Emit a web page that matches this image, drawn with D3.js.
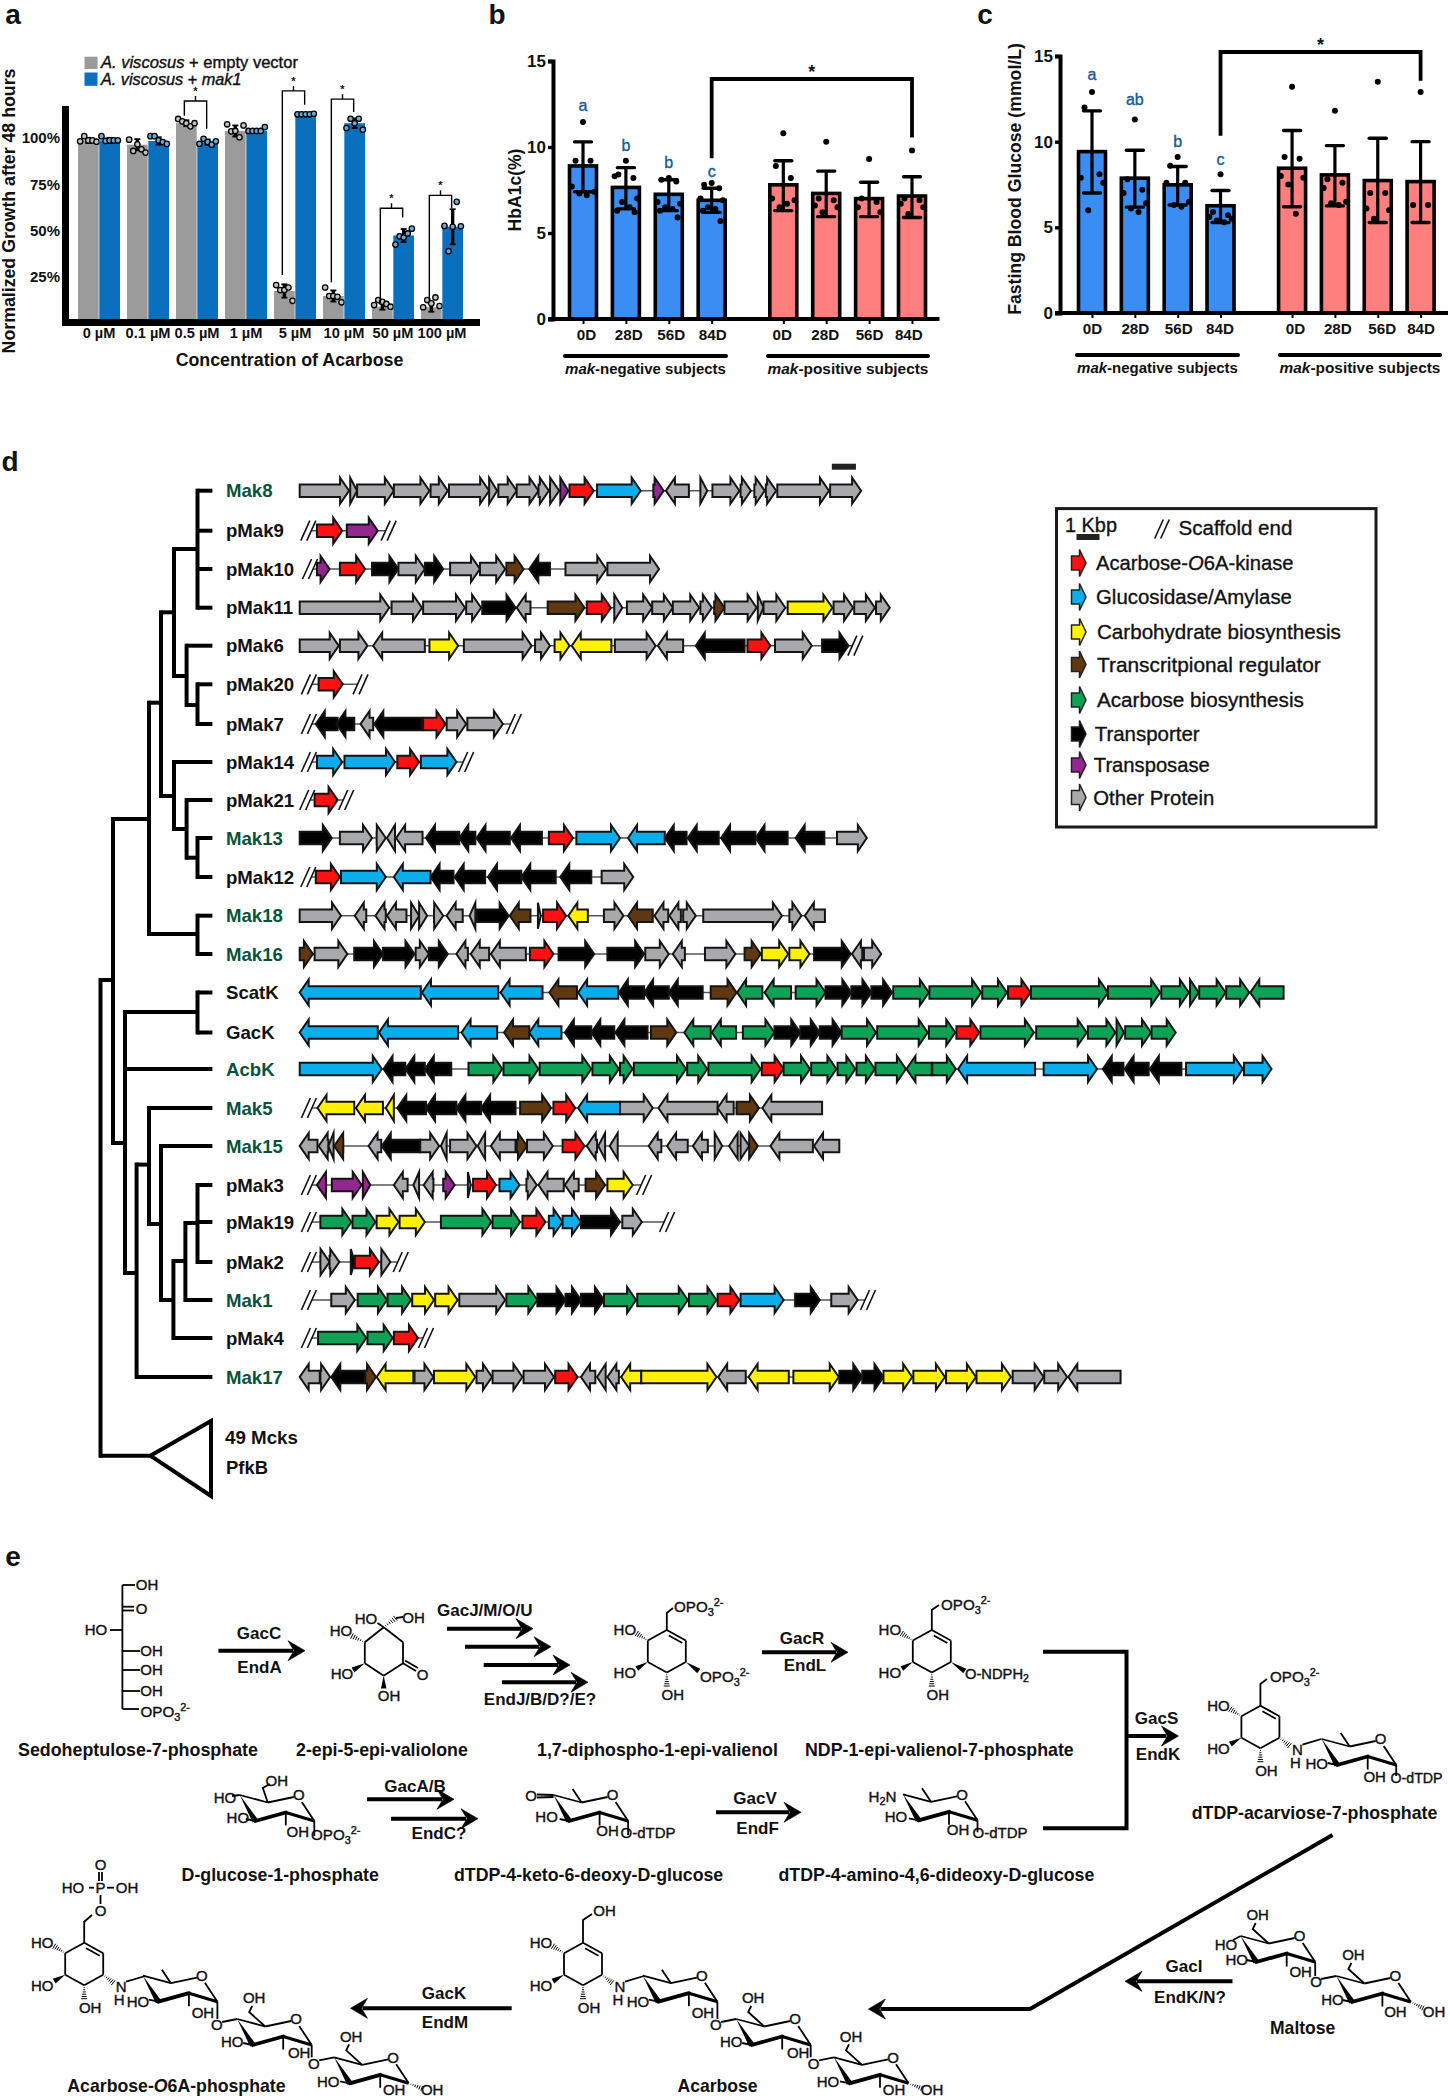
<!DOCTYPE html>
<html><head><meta charset="utf-8">
<script src="https://cdn.jsdelivr.net/npm/d3@7"></script>
<style>html,body{margin:0;background:#fff}svg{display:block}text{font-family:"Liberation Sans",Arial,sans-serif;fill:#111}</style>
</head><body><svg id="fig" width="1450" height="2100"></svg>
<script>
// ---------- panel a data ----------
const concLabels=['0 µM','0.1 µM','0.5 µM','1 µM','5 µM','10 µM','50 µM','100 µM'];
const growthGray=[98.7,96.4,108,103.8,17.3,14.6,8.8,8.5];
const growthBlue=[98.7,98.4,97.8,103.8,113,108,47.3,52];
const errGray=[1.4,3,1.6,3,3.6,3,1.6,2.4];
const errBlue=[1.4,2,1.4,1,.4,2.6,3.5,9.5];
const ptsGray=[[98.2,101,98.7,98.7,98],[99.1,93,96.6,93.9,92.1],[110.3,109,108,106.3,108],[107.4,103.6,103.8,100.4,106.8],[20.5,17.8,17.8,19.2,12],[19.2,14.6,14.6,14.2,11.2],[9.7,12.4,11.5,10.3,8.8],[8.5,12.4,10.6,13.8,9.2]];
const ptsBlue=[[101,98.4,98.7,98.7,98.7],[101,101,98.7,97.8,96.8],[96.9,99.6,97.8,96.4,98.2],[103.8,103.8,103.8,103.8,105.9],[112.8,112.8,112.8,112.8,113.1],[105.4,110.4,108,110.4,104.5],[42.4,46.9,46.2,48.4,51],[52.5,38.8,52,65.5,52.3]];
const bracketGroups=[2,4,5,6,7];
const bracketTop=[120,125.5,121,62,69];
const bracketLeft=[112,26,22,11,12];
const bracketRight=[105,118,114,57,62];
// ---------- panels b, c data ----------
const dayLabels=['0D','28D','56D','84D','0D','28D','56D','84D'];
const dayPos=[0,1,2,3,4.67,5.67,6.67,7.67];
const hbaMean=[8.9,7.65,7.25,6.9,7.8,7.3,7.0,7.15];
const hbaHi=[10.3,8.8,8.1,7.6,9.2,8.6,7.95,8.27];
const hbaLo=[7.4,6.4,6.3,6.2,6.3,5.95,5.95,5.9];
const hbaPts=[[11.45,9.2,9.2,7.7,7.4,7.3,7.2],[9.2,8.4,8.2,8.3,7,6.8,6.5,6.3,6.2],[8.2,8.1,8,6.8,6.7,6.5,6.4,6.3,5.9],[7.9,7.8,7.6,7,6.9,6.5,6.4,6.3,5.7],[10.8,8.9,8.2,7,6.9,6.5,6.7],[10.3,7,6.9,6.6,6.5,6.2],[9.3,7,6.8,6.5,6.2],[9.8,7,6.9,6.7,6.5,6.1]];
const hbaLetters=['a','b','b','c'];
const hbaLetterVal=[12.4,10.1,9.1,8.6];
const fbgMean=[9.42,7.87,7.48,6.26,8.45,8.06,7.73,7.67];
const fbgHi=[11.8,9.5,8.55,7.15,10.65,9.77,10.2,10];
const fbgLo=[7,6.18,6.3,5.28,6.2,6.25,5.28,5.28];
const fbgPts=[[12.9,12,8.1,7.9,7.6,6],[11.3,7.8,7.2,7,6.4,6.1,5.9],[9.1,8.6,7.6,7.6,6.5,6.3,6.2],[8.1,5.9,5.7,5.6,5.5,5.4,5.3],[13.2,9.1,9,8,7.9,7.5,5.8],[11.8,7.8,7.6,7.3,6.5,6.4,6.3],[13.5,7,7,6.1,6,5.5],[12.9,6.3,6.3]];
const fbgLetters=['a','ab','b','c'];
const fbgLetterVal=[13.95,12.45,10.05,8.95];
const dotJitter=[0,-6,6,-9,9,-3,3,-7,7];
// ---------- panel d data ----------
const geneColors={r:'#ff1111',b:'#0baeea',y:'#fff200',n:'#603913',g:'#0fa257',k:'#000',p:'#92278f',o:'#a7a9ac'};
const legendKeys=['r','b','y','n','g','k','p','o'];
const legendLabels=[['Acarbose-',{t:'O',i:1},'6A-kinase'],['Glucosidase/Amylase'],['Carbohydrate biosynthesis'],['Transcritpional regulator'],['Acarbose biosynthesis'],['Transporter'],['Transposase'],['Other Protein']];
const legendRowY=[563,597,632,664.5,700,734,765,797.5];
const legendTextX=[1096,1096,1097,1097,1097,1094.7,1093.8,1093.3];
const legendTextW=[197.6,196,244,224,207,105,116,121];
const rowNames=['Mak8','pMak9','pMak10','pMak11','pMak6','pMak20','pMak7','pMak14','pMak21','Mak13','pMak12','Mak18','Mak16','ScatK','GacK','AcbK','Mak5','Mak15','pMak3','pMak19','pMak2','Mak1','pMak4','Mak17'];
const rowYs=[490.7,530.7,569,607.7,645.7,684.3,724,762,800,838,877,915.7,954,992.5,1032.5,1069,1108,1146,1185,1222,1262,1300,1338,1377];
const greenRows=['Mak8','Mak13','Mak18','Mak16','AcbK','Mak5','Mak15','Mak1','Mak17'];
const rowGenes={
Mak8:'o522-608 o610-622 o622-686 o686-748 o750-780 o782-852 o852-866 o868-900 o900-938 o938-956 o958-974 p976-990 r992-1034 b1040-1116 p1138-1156 o1200-1160 o1220-1232 o1241-1288 o1290-1308 o1314-1332 o1334-1352 o1354-1444 o1446-1500',
pMak9:'r552-596 p604-658',
pMak10:'p552-574 r592-636 k648-694 o694-740 k740-772 o784-836 o836-880 n882-912 k958-922 o985-1056 o1058-1148',
pMak11:'o522-678 o682-735 o737-810 o812-838 k840-898 o924-900 n954-1018 r1022-1064 o1070-1084 o1092-1136 o1136-1172 o1172-1218 o1220-1240 n1244-1262 o1262-1318 o1320-1330 o1330-1368 y1372-1450 o1452-1486 o1488-1524 o1526-1550',
pMak6:'o522-590 o592-640 o740-650 y748-798 o808-926 o932-958 y966-992 y1065-996 o1071-1142 o1190-1146 k1297-1212 r1302-1342 o1350-1414 k1432-1478',
pMak20:'r555-597',
pMak7:'k588-550 k617-586 o650-628 k735-652 r737-776 o778-812 o814-876',
pMak14:'b552-596 b600-688 r692-730 b733-795',
pMak21:'r548-588',
Mak13:'k522-578 o592-648 o656-672 o688-674 o736-690 k800-742 k828-800 k888-830 k944-890 r956-998 b1004-1080 b1158-1094 k1196-1158 k1252-1198 k1316-1256 k1372-1316 k1436-1386 o1458-1510',
pMak12:'r550-592 b594-672 b750-686 k790-750 k845-792 k908-850 k968-908 k1030-976 o1048-1103',
Mak18:'o522-594 o638-618 o672-654 o708-674 o716-730 o730-744 o756-772 o806-778 o828-818 k830-886 n924-888 o937-942 r946-986 y1024-990 o1052-1086 n1137-1094 o1164-1140 o1186-1166 o1190-1212 o1225-1362 o1375-1396 o1437-1402',
Mak16:'n522-545 o548-605 k617-667 k667-722 o724-747 k747-780 o815-795 o852-820 o916-855 r923-964 k973-1035 k1058-1122 o1124-1165 o1193-1172 o1228-1281 n1297-1325 y1327-1373 y1375-1410 k1418-1482 o1502-1484 o1505-1535',
ScatK:'b733-522 b868-735 b945-872 n1005-957 b1077-1007 k1122-1078 k1165-1122 k1224-1165 n1238-1283 g1328-1284 g1378-1332 g1386-1438 k1438-1483 k1483-1518 k1518-1554 g1556-1618 g1619-1709 g1711-1754 r1756-1795 g1796-1930 g1930-2021 g2023-2071 g2073-2088 g2089-2135 g2136-2176 g2236-2178',
GacK:'b658-522 b798-660 b866-804 n922-878 b978-922 k1030-984 k1070-1030 k1128-1072 n1134-1178 g1238-1192 g1282-1240 g1294-1349 k1349-1394 k1394-1428 k1428-1466 g1466-1526 g1528-1616 g1618-1664 r1666-1706 g1708-1801 g1805-1893 g1895-1943 g1945-1958 g1960-2005 g2006-2048',
AcbK:'b522-665 k706-668 k740-706 k786-740 g816-875 g877-938 g940-1030 g1032-1078 g1080-1102 g1104-1195 g1197-1232 g1234-1325 r1327-1365 g1365-1411 g1413-1457 g1459-1490 g1492-1524 g1525-1578 g1623-1579 g1624-1665 b1803-1669 b1818-1911 k1957-1921 k2001-1959 k2058-2003 b2066-2165 b2167-2215',
Mak5:'y617-553 y667-620 y686-672 k742-692 k795-742 k838-795 k898-838 n906-960 r964-1002 b1080-1007 o1080-1137 o1250-1147 o1278-1250 n1283-1322 o1432-1328',
Mak15:'o553-522 o572-555 o581-572 n598-582 o664-642 k732-665 o732-765 o778-768 o784-830 o845-832 o898-855 n900-918 o918-963 r980-1018 o1040-1022 o1054-1042 o1076-1062 o1152-1130 o1198-1162 o1233-1207 o1245-1258 o1285-1270 o1290-1305 n1305-1320 o1416-1342 o1462-1418',
pMak3:'p568-552 p578-630 p632-645 o710-686 o730-720 o755-738 p772-792 o815-820 r824-864 b870-905 o917-935 o982-938 o1008-984 n1020-1054 y1058-1102',
pMak19:'g558-612 g614-654 y656-694 y696-740 g768-856 g858-906 r910-950 b956-980 b980-1012 k1012-1080 o1084-1118',
pMak2:'o558-574 o574-591 k611-618 r618-660 o664-680',
Mak1:'o577-618 g623-674 g675-716 y718-756 y758-797 o800-880 g882-936 k936-985 k985-1012 k1012-1052 g1052-1108 g1110-1198 g1200-1248 r1250-1288 b1290-1365 k1385-1428 o1448-1494',
pMak4:'g554-638 g640-684 r686-728',
Mak17:'o557-522 o558-575 k635-577 n636-655 y720-656 o722-755 y756-828 o830-857 o858-910 o912-965 r967-1006 o1037-1012 o1055-1040 o1078-1058 y1117-1082 y1117-1248 o1299-1251 y1374-1304 y1382-1461 k1462-1502 k1502-1539 y1539-1589 y1591-1646 y1648-1700 y1701-1761 o1764-1818 o1819-1859 o1952-1861'};
const rowSlashes={pMak9:[537,677],pMak10:[540],pMak6:[1490],pMak20:[538,628],pMak7:[538,895],pMak14:[538,812],pMak21:[535,603],pMak12:[537],Mak5:[538],pMak3:[538,1122],pMak19:[538,1162],pMak2:[538,698],Mak1:[538,1512],pMak4:[538,742]};
const treeData={x:100.5,kids:[
 {x:113,y:980,kids:[
  {x:149,y:819,kids:[
   {x:161,y:702.7,kids:[
    {x:174,y:612.3,kids:[
     {x:197.5,y:549,kids:[{row:'Mak8'},{row:'pMak9'},{row:'pMak10'},{row:'pMak11'}]},
     {x:186.6,y:676,kids:[{row:'pMak6'},{x:197.5,y:705,kids:[{row:'pMak20'},{row:'pMak7'}]}]}]},
    {x:174,y:796,kids:[{row:'pMak14'},{x:186.6,y:829,kids:[{row:'pMak21'},{x:197.5,y:857.7,kids:[{row:'Mak13'},{row:'pMak12'}]}]}]}]},
   {x:197.5,y:934,kids:[{row:'Mak18'},{row:'Mak16'}]}]},
  {x:125,y:1143,kids:[
   {x:197.5,y:1012,kids:[{row:'ScatK'},{row:'GacK'}]},
   {row:'AcbK'},
   {x:136.6,y:1273,kids:[
    {x:149,y:1164.6,kids:[{row:'Mak5'},
     {x:161,y:1224,kids:[{row:'Mak15'},
      {x:173.4,y:1300,kids:[
       {x:185.4,y:1261,kids:[
        {x:197.5,y:1223,kids:[{row:'pMak3'},{row:'pMak19'},{row:'pMak2'}]},
        {row:'Mak1'}]},
       {row:'pMak4'}]}]}]},
    {row:'Mak17'}]}]}]},
 {tip:150.4,y:1455.7}]};
// ---------- panel e text ----------
const compoundNames=[['Sedoheptulose-7-phosphate',18,1750,240],['2-epi-5-epi-valiolone',296,1750,172],['1,7-diphospho-1-epi-valienol',537,1750,241],['NDP-1-epi-valienol-7-phosphate',805,1749.3,269],['D-glucose-1-phosphate',181.6,1875,197.4],['dTDP-4-keto-6-deoxy-D-glucose',454,1875,269.5],['dTDP-4-amino-4,6-dideoxy-D-glucose',778.5,1875,316.3],['dTDP-acarviose-7-phosphate',1191.7,1813,245.8],['Maltose',1270,2027.7,65.4],['Acarbose',677.5,2085.7,80.2]];
const enzymeLabels=[['GacC',259,1633],['EndA',259.5,1666.7],['GacJ/M/O/U',484.7,1610],['EndJ/B/D?/E?',540,1699],['GacR',802,1638],['EndL',805,1665],['GacA/B',415,1785.7],['EndC?',439,1833],['GacV',755,1797.7],['EndF',757.6,1827.7],['GacS',1156.5,1718],['EndK',1158,1754],['GacI',1184,1965.7],['EndK/N?',1190,1997.3],['GacK',444,1993],['EndM',445,2021.7]];
const arrowsE=[[218.4,305,1650.7],[447,533,1628.7],[465,551,1646.7],[483.7,570,1665],[502,588,1682.3],[762,848,1652.3],[367,454,1799.3],[391,478,1818.7],[716,801,1812.3],[1126.5,1178.5,1736],[1232.5,1125,1981.3],[511.7,350.5,2008.3]];

// ---------- helpers ----------
const svg=d3.select('#fig');
function T(p,s,x,y,o={}){
  const t=p.append('text').attr('transform',`translate(${x},${y})`+(o.rot?` rotate(${o.rot})`:''))
    .attr('text-anchor',o.a||'middle').attr('font-weight',o.fw||'bold');
  if(o.fill) t.style('fill',o.fill);
  const parts=Array.isArray(s)?s:[s];
  parts.forEach(q=>{
    if(typeof q==='string'){t.append('tspan').text(q);return;}
    const sp=t.append('tspan').text(q.t);
    if(q.i) sp.attr('font-style','italic');
    if(q.dy) sp.attr('dy',q.dy);
    if(q.fs) sp.attr('font-size',q.fs);
  });
  let size=o.s||14;
  t.attr('font-size',size);
  if(o.w){const L=t.node().getComputedTextLength();size=size*o.w/L;t.attr('font-size',size);}
  t.attr('y',size*.36);
  if(o.sw) t.attr('stroke',o.fill||'#111').attr('stroke-width',o.sw);
  return t;
}
function L(p,x1,y1,x2,y2,w=1.6,c='#000',cap='butt'){
  return p.append('line').attr('x1',x1).attr('y1',y1).attr('x2',x2).attr('y2',y2).attr('stroke',c).attr('stroke-width',w).attr('stroke-linecap',cap);
}
function polyl(p,pts,w,c='#000'){
  return p.append('path').attr('d',d3.line()(pts)).attr('fill','none').attr('stroke',c).attr('stroke-width',w).attr('stroke-linejoin','miter');
}

// ---------- panel a ----------
const ga=svg.append('g');
T(ga,'a',13,14,{s:28});
const ax=d3.scaleBand().domain(concLabels).range([74.5,466.5]);
const asub=d3.scaleBand().domain(['gray','blue']).range([-21,21]).paddingInner(.03);
const ay=d3.scaleLinear().domain([0,100]).range([323,138]);
const seriesA=[{k:'gray',v:growthGray,e:errGray,p:ptsGray,c:'#9b9b9b',f:'#c2c2c2'},{k:'blue',v:growthBlue,e:errBlue,p:ptsBlue,c:'#0a6fbd',f:'#6fa8d4'}];
seriesA.forEach(s=>{
  concLabels.forEach((c,i)=>{
    const cx=ax(c)+ax.bandwidth()/2, bx=cx+asub(s.k);
    ga.append('rect').attr('x',bx).attr('y',ay(s.v[i])).attr('width',asub.bandwidth()).attr('height',ay(0)-ay(s.v[i])).attr('fill',s.c);
    const mx=bx+asub.bandwidth()/2;
    L(ga,mx,ay(s.v[i]+s.e[i]),mx,ay(s.v[i]-s.e[i]),3.4);
    L(ga,mx-3,ay(s.v[i]+s.e[i]),mx+3,ay(s.v[i]+s.e[i]),1.8);
    L(ga,mx-3,ay(s.v[i]-s.e[i]),mx+3,ay(s.v[i]-s.e[i]),1.8);
    s.p[i].forEach((v,j)=>ga.append('circle').attr('cx',mx+(j-2)*4.1).attr('cy',ay(v)).attr('r',2.7).attr('fill',s.f).attr('stroke','#000').attr('stroke-width',1.3));
  });
});
L(ga,65.5,106,65.5,326,7);
L(ga,64,322.5,480,322.5,7);
const aAxis=ga.append('g').attr('transform','translate(62,0)').call(d3.axisLeft(ay).tickValues([25,50,75,100]).tickSize(0).tickPadding(2).tickFormat(d=>d+'%'));
aAxis.select('.domain').remove();
aAxis.selectAll('text').attr('font-size',15).attr('font-weight','bold').attr('font-family','"Liberation Sans"').style('fill','#111');
const aX=ga.append('g').attr('transform','translate(0,326)').call(d3.axisBottom(ax).tickSize(0).tickPadding(0));
aX.select('.domain').remove();
aX.selectAll('text').attr('dy',0).attr('y',12).attr('font-size',14.6).attr('font-weight','bold').attr('font-family','"Liberation Sans"').style('fill','#111');
T(ga,'Concentration of Acarbose',289.5,360,{w:228});
T(ga,'Normalized Growth after 48 hours',9,211,{rot:-90,w:285});
bracketGroups.forEach((g,i)=>{
  const c=ax(concLabels[g])+ax.bandwidth()/2;
  const xl=c+asub('gray')+asub.bandwidth()/2-2, xr=c+asub('blue')+asub.bandwidth()/2-1;
  const yt=ay(bracketTop[i]);
  polyl(ga,[[xl,ay(bracketLeft[i])],[xl,yt],[xr,yt],[xr,ay(bracketRight[i])]],1.4);
  L(ga,(xl+xr)/2,yt-5,(xl+xr)/2,yt,1.4);
  T(ga,'*',(xl+xr)/2,yt-10,{s:11});
});
ga.append('rect').attr('x',84.5).attr('y',56.7).attr('width',13).attr('height',12.3).attr('fill','#9b9b9b');
ga.append('rect').attr('x',84.5).attr('y',72.5).attr('width',13).attr('height',13.3).attr('fill','#0a6fbd');
T(ga,[{t:'A. viscosus',i:1},' + empty vector'],101,62,{a:'start',w:197,fw:'normal',sw:.4});
T(ga,[{t:'A. viscosus',i:1},' + ',{t:'mak1',i:1}],101,79,{a:'start',w:140.5,fw:'normal',sw:.4});

// ---------- panels b, c ----------
function panelBar(c){
  const g=svg.append('g');
  T(g,c.letter,c.lx,14,{s:28});
  const y=d3.scaleLinear().domain([0,15]).range([c.y0,c.y15]);
  const x=d3.scaleLinear().domain([0,7.67]).range([c.x0,c.x1]);
  const colors=i=>i<4?'#3a8df2':'#ff7e7e';
  dayPos.forEach((p,i)=>{
    const cx=x(p);
    g.append('rect').attr('x',cx-13.5).attr('y',y(c.mean[i])).attr('width',27).attr('height',y(0)-y(c.mean[i])).attr('fill',colors(i)).attr('stroke','#000').attr('stroke-width',3.6);
  });
  dayPos.forEach((p,i)=>{
    const cx=x(p);
    c.pts[i].forEach((v,j)=>g.append('circle').attr('cx',cx+dotJitter[j%dotJitter.length]*1.25).attr('cy',y(v)).attr('r',3).attr('fill','#000'));
    L(g,cx,y(c.hi[i]),cx,y(c.lo[i]),3.2);
    L(g,cx-8.5,y(c.hi[i]),cx+8.5,y(c.hi[i]),3.4,'#000','round');
    L(g,cx-8.5,y(c.lo[i]),cx+8.5,y(c.lo[i]),3.4,'#000','round');
  });
  const ya=g.append('g').attr('transform',`translate(${c.axX},0)`).call(d3.axisLeft(y).tickValues([0,5,10,15]).tickSize(5).tickPadding(2).tickFormat(d3.format('d')));
  ya.select('.domain').attr('stroke-width',4);
  ya.selectAll('line').attr('stroke-width',3.4);
  ya.selectAll('text').attr('font-size',17).attr('font-weight','bold').attr('font-family','"Liberation Sans"').style('fill','#111');
  L(g,c.axL,c.y0,c.axR,c.y0,4.2);
  const xa=g.append('g').attr('transform',`translate(0,${c.y0})`).call(d3.axisBottom(x).tickValues(dayPos).tickSize(5).tickFormat((d,i)=>dayLabels[i]));
  xa.select('.domain').remove();
  xa.selectAll('line').attr('stroke-width',2);
  xa.selectAll('text').attr('y',10).attr('dy','.71em').attr('dx',(d,i)=>c.nudge[i]).attr('font-size',15.2).attr('font-weight','bold').attr('font-family','"Liberation Sans"').style('fill','#111');
  c.letters.forEach((l,i)=>T(g,l,x(dayPos[i]),y(c.letterV[i]),{s:16,fill:'#14599b',fw:'normal',sw:.35}));
  polyl(g,[[x(3),y(c.brL)],[x(3),c.brTop],[x(7.67),c.brTop],[x(7.67),y(c.brR)]],3.8);
  T(g,'*',(x(3)+x(7.67))/2,c.brTop-7,{s:18});
  [[0,3,'mak','-negative subjects',c.u1],[4,7,'mak','-positive subjects',c.u2]].forEach(r=>{
    L(g,r[4][0],c.uY,r[4][1],c.uY,4,'#000','round');
    T(g,[{t:r[2],i:1},r[3]],(r[4][0]+r[4][1])/2,c.uY+12.5,{w:161});
  });
  T(g,c.ylab,c.yx,c.yc,{rot:-90,w:c.yw});
}
panelBar({letter:'b',lx:497,y0:319,y15:61,x0:583,x1:912,axX:553,axL:548,axR:939.5,mean:hbaMean,hi:hbaHi,lo:hbaLo,pts:hbaPts,letters:hbaLetters,letterV:hbaLetterVal,nudge:[3,2.4,2,.5,-1.6,-1.5,0,-3.7],brTop:79,brL:9.35,brR:10.55,uY:356,u1:[565,726],u2:[768,928],ylab:'HbA1c(%)',yx:515,yc:190,yw:83});
panelBar({letter:'c',lx:985,y0:313,y15:56,x0:1092,x1:1420.6,axX:1060,axL:1055,axR:1448,mean:fbgMean,hi:fbgHi,lo:fbgLo,pts:fbgPts,letters:fbgLetters,letterV:fbgLetterVal,nudge:[0,0,.5,-1,3,2.4,4,0],brTop:52,brL:10.35,brR:13.55,uY:355,u1:[1077,1238],u2:[1280,1440],ylab:'Fasting Blood Glucose (mmol/L)',yx:1015,yc:179,yw:272});

// ---------- panel d ----------
const gd=svg.append('g');
T(gd,'d',10,461,{s:28});
const rowY=d3.scaleOrdinal(rowNames,rowYs);
const geneX=d3.scaleLinear().domain([522,2236]).range([299.7,1283.6]);
function parseGenes(s){return s.split(' ').map(t=>{const m=t.match(/^(\w)(\d+)-(\d+)$/);return {k:m[1],a:+m[2],b:+m[3]};});}
function genePath(a,b,yc,head=9,hb=6.2,hh=13){
  const dir=b>a?1:-1,len=Math.abs(b-a),h=Math.min(head,len),n=b-dir*h;
  return `M${a},${yc-hb}L${n},${yc-hb}L${n},${yc-hh}L${b},${yc}L${n},${yc+hh}L${n},${yc+hb}L${a},${yc+hb}Z`;
}
function slash(p,x,yc,s=1){
  [-3,3].forEach(d=>{
    L(p,x+d-4.5*s,yc+10*s,x+d+4.5*s,yc-10*s,1.6,'#111');
  });
}
const hierarchy=d3.hierarchy(treeData,d=>d.kids);
const nodeY=n=>n.data.row?rowY(n.data.row):n.data.y;
const treeG=gd.append('g');
hierarchy.each(n=>{
  if(n.children){
    const ys=n.children.map(nodeY);
    L(treeG,n.data.x,d3.min(ys),n.data.x,d3.max(ys),4,'#000','square');
    n.children.forEach(k=>{
      const y=nodeY(k);
      const end=k.data.row?212.4:(k.data.tip||k.data.x);
      L(treeG,n.data.x,y,end,y,4,'#000','butt');
    });
  }
});
polyl(gd,[[150.4,1455.7],[211,1421],[211,1496],[150.4,1455.7]],4);
T(gd,'49 Mcks',225,1437,{a:'start',w:73});
T(gd,'PfkB',226,1467.5,{a:'start',w:42});
rowNames.forEach(name=>{
  const yc=rowY(name);
  T(gd,name,226,yc,{a:'start',s:18.6,fill:greenRows.includes(name)?'#07533a':'#111'});
  const genes=parseGenes(rowGenes[name]);
  const sl=rowSlashes[name]||[];
  const ends=genes.flatMap(g=>[g.a,g.b]).concat(sl);
  L(gd,geneX(d3.min(ends)),yc,geneX(d3.max(ends)),yc,1.6,'#555');
  sl.forEach(s=>{
    gd.append('rect').attr('x',geneX(s)-3).attr('y',yc-2).attr('width',6).attr('height',4).attr('fill','#fff');
    slash(gd,geneX(s),yc);
  });
  gd.append('g').selectAll('path').data(genes).join('path')
    .attr('d',g=>genePath(geneX(g.a),geneX(g.b),yc))
    .attr('fill',g=>geneColors[g.k]).attr('stroke','#141414').attr('stroke-width',2).attr('stroke-linejoin','miter').attr('stroke-miterlimit',6);
});
L(gd,geneX(1449),466.7,geneX(1491),466.7,6,'#222');
// legend
gd.append('rect').attr('x',1056.5).attr('y',508.6).attr('width',319.5).attr('height',318.4).attr('fill','none').attr('stroke','#1a1a1a').attr('stroke-width',3);
T(gd,'1 Kbp',1065,525,{a:'start',w:52,fw:'normal',sw:.35});
L(gd,1076.5,537,1099.5,537,6,'#222');
slash(gd,1162,529,.95);
T(gd,'Scaffold end',1178.5,527.8,{a:'start',w:114,fw:'normal',sw:.35});
legendKeys.forEach((k,i)=>{
  gd.append('path').attr('d',genePath(1071.5,1086,legendRowY[i],6.5,7,13.5)).attr('fill',geneColors[k]).attr('stroke','#222').attr('stroke-width',1.5);
  T(gd,legendLabels[i],legendTextX[i],legendRowY[i],{a:'start',w:legendTextW[i],fw:'normal',sw:.35});
});

// ---------- panel e ----------
const ge=svg.append('g');
T(ge,'e',13,1556,{s:28});
compoundNames.forEach(c=>T(ge,c[0],c[1],c[2],{a:'start',w:c[3]}));
T(ge,['Acarbose-',{t:'O',i:1},'6A-phosphate'],67.3,2085.7,{a:'start',w:218.4});
enzymeLabels.forEach(c=>T(ge,c[0],c[1],c[2],{s:17,fw:'bold'}));
function arrow(x0,x1,y){
  const d=x1>x0?1:-1;
  L(ge,x0,y,x1-d*12,y,4);
  ge.append('path').attr('d',`M${x1},${y}L${x1-d*17},${y-10}L${x1-d*11},${y}L${x1-d*17},${y+10}Z`).attr('fill','#000').attr('stroke','#000').attr('stroke-width',.6);
}
arrowsE.forEach(a=>arrow(a[0],a[1],a[2]));
polyl(ge,[[1043,1651.7],[1126.5,1651.7],[1126.5,1828.3],[1043,1828.3]],4);
polyl(ge,[[1332.5,1835],[1030,2009],[885,2009]],4);
arrow(885,868.4,2009);

const A=(t,x,y,o={})=>T(ge,t,x,y,Object.assign({s:15,fw:'normal',sw:.4},o));
const bond=(x1,y1,x2,y2,w=1.8)=>L(ge,x1,y1,x2,y2,w);
function wedge(x1,y1,x2,y2,w=5.5){
  const dx=x2-x1,dy=y2-y1,l=Math.hypot(dx,dy),nx=-dy/l*w/2,ny=dx/l*w/2;
  ge.append('path').attr('d',`M${x1},${y1}L${x2+nx},${y2+ny}L${x2-nx},${y2-ny}Z`).attr('fill','#000');
}
function hash(x1,y1,x2,y2,w=6){
  const dx=x2-x1,dy=y2-y1,l=Math.hypot(dx,dy),nx=-dy/l,ny=dx/l,n=6;
  for(let i=1;i<=n;i++){const t=i/n,hw=w/2*t;L(ge,x1+dx*t-nx*hw,y1+dy*t-ny*hw,x1+dx*t+nx*hw,y1+dy*t+ny*hw,1);}
}
const opo3=(x,y)=>A(['OPO',{t:'3',fs:'.72em',dy:'.3em'},{t:'2-',fs:'.72em',dy:'-.85em'}],x,y,{a:'start',w:49.5});
function ringSix(cx,cy){
  const p=[[0,0],[19,10.5],[19,32],[0,42.5],[-19,32],[-19,10.5]].map(q=>[cx+q[0],cy+q[1]]);
  p.forEach((q,i)=>{const r=p[(i+1)%6];bond(q[0],q[1],r[0],r[1]);});
  bond(cx+2,cy+5.5,cx+15.5,cy+13);
  hash(p[5][0],p[5][1],p[5][0]-11,p[5][1]-7);A('HO',cx-42,cy);
  wedge(p[4][0],p[4][1],p[4][0]-11,p[4][1]+6.5);A('HO',cx-42,cy+43);
  hash(p[3][0],p[3][1],cx,cy+56);A('OH',cx+6,cy+65);
  return p;
}
function chair(ax,ay,o){
  const P={c5:[ax+28,ay+7.5],O:[ax+59,ay],c1:[ax+74.5,ay+26],c2:[ax+46,ay+17.5],c3:[ax+15.5,ay+26]};
  bond(ax,ay,P.c5[0],P.c5[1]);
  bond(P.c5[0],P.c5[1],P.O[0]-5,P.O[1]+2);
  A('O',P.O[0],P.O[1]);
  bond(P.O[0]+3,P.O[1]+7,P.c1[0],P.c1[1]);
  L(ge,P.c1[0],P.c1[1],P.c2[0],P.c2[1],3.2);
  L(ge,P.c2[0],P.c2[1],P.c3[0],P.c3[1],3.8,'#000','round');
  wedge(ax,ay,P.c3[0],P.c3[1],6);
  bond(P.c2[0],P.c2[1],P.c2[0],P.c2[1]+13);
  A('OH',ax+(o.c2x||57),ay+(o.c2y||36));
  bond(ax+6,ay+24,P.c3[0],P.c3[1]);
  A('HO',ax+(o.c3x||-6),ay+(o.c3y||24));
  if(o.c5==='me') bond(P.c5[0],P.c5[1],ax+19,ay-6);
  if(o.c5==='ch2a'){polyl(ge,[P.c5,[ax+23,ay-7],[ax+30,ay-11]],1.8);A('OH',ax+37,ay-14);}
  if(o.c5==='ch2b'){polyl(ge,[P.c5,[ax+12,ay-7],[ax+15,ay-13]],1.8);A('OH',ax+17,ay-21);}
  return P;
}
// sedoheptulose-7-phosphate
bond(122.4,1585,122.4,1709);bond(122.4,1585,135,1585);bond(122.4,1709,139,1709);
A('OH',147,1585);bond(122.4,1606.7,134,1606.7);bond(122.4,1610.5,134,1610.5);A('O',141.5,1609);
bond(110,1630,122.4,1630);A('HO',96,1630);
[[1651,140,151.5],[1670,140,151.5],[1691,140,151.5]].forEach(r=>{bond(122.4,r[0],r[1],r[0]);A('OH',r[2],r[0]);});
opo3(140.5,1712);
// valiolone
[[383.7,1627.3],[403,1642.3],[403,1663.3],[383.7,1675.7],[364.8,1663.3],[364.8,1642.3]].forEach((q,i,a)=>{const r=a[(i+1)%6];bond(q[0],q[1],r[0],r[1]);});
bond(403,1663.3,416,1671);bond(405,1660.5,418,1668);A('O',422.5,1675);
wedge(383.7,1675.7,383.7,1688.5);A('OH',389,1695.7);
wedge(364.8,1663.3,353,1670);A('HO',342,1674);
hash(364.8,1642.3,352,1636);A('HO',341,1631);
bond(383.7,1627.3,377.5,1623);A('HO',366,1619);
hash(383.7,1627.3,395.4,1618.3);bond(396,1618,403,1617);A('OH',413.5,1617.3);
// 1,7-diphospho-1-epi-valienol
let r=ringSix(666.8,1630);
polyl(ge,[[666.8,1630],[666.8,1613],[673,1608]],1.8);opo3(674,1607);
wedge(r[2][0],r[2][1],r[2][0]+13,r[2][1]+9);opo3(700,1677);
// NDP-1-epi-valienol-7-phosphate
r=ringSix(931.8,1630);
polyl(ge,[[931.8,1630],[931.8,1610],[939,1605]],1.8);opo3(941,1605);
wedge(r[2][0],r[2][1],r[2][0]+14,r[2][1]+9);
A(['O-NDPH',{t:'2',fs:'.72em',dy:'.3em'}],965,1674,{a:'start',w:64});
// D-glucose-1-phosphate
let p=chair(239.8,1795,{c5:'ch2a',c2x:58,c2y:37,c3x:-2,c3y:23});
A('HO',225,1798);bond(232,1796,239.8,1795);
bond(p.c1[0],p.c1[1],p.c1[0],p.c1[1]+15);opo3(311,1835);
// dTDP-4-keto-6-deoxy
p=chair(553.6,1795,{c5:'me',c2x:54,c2y:36,c3x:-7,c3y:22});
bond(537,1794.5,553.6,1795);bond(537,1797.5,553.6,1797);A('O',531,1796);
bond(p.c1[0],p.c1[1],p.c1[0],p.c1[1]+14);A('O-dTDP',648,1833,{w:55});
// dTDP-4-amino
p=chair(903,1794.3,{c5:'me',c2x:55,c2y:35,c3x:-7,c3y:22});
A(['H',{t:'2',fs:'.72em',dy:'.3em'},{t:'N',dy:'-.25em'}],882.5,1796.7,{w:28});
bond(p.c1[0],p.c1[1],p.c1[0],p.c1[1]+12);A('O-dTDP',1000,1833,{w:55});
// dTDP-acarviose-7-phosphate
function nLinked(cx,cy){
  const q=ringSix(cx,cy);
  hash(q[2][0],q[2][1],q[2][0]+10,q[2][1]+8);
  A('N',cx+37,cy+44);A('H',cx+35,cy+57);
  bond(cx+42,cy+39,cx+61,cy+33.3);
  return q;
}
r=nLinked(1260.4,1705.7);
polyl(ge,[[1260.4,1705.7],[1260.4,1684],[1267,1679]],1.8);opo3(1270,1677);
p=chair(1321.7,1739,{c5:'me',c2x:53,c2y:38,c3x:-5,c3y:25});
bond(p.c1[0],p.c1[1],p.c1[0],p.c1[1]+11);A('O-dTDP',1416.5,1778,{w:52});
// Acarbose-like tri-saccharide
function tail(a1x,a1y,a2x,a2y,a3x,a3y){
  const c1=chair(a1x,a1y,{c5:'me',c2x:60,c2y:37,c3x:-5,c3y:26});
  bond(c1.c1[0],c1.c1[1],c1.c1[0],a2y);A('O',a2x-20.4,a2y+6);bond(a2x-15,a2y+3,a2x,a2y);
  const c2=chair(a2x,a2y,{c5:'ch2b',c2x:62,c2y:34,c3x:-5,c3y:23});
  bond(c2.c1[0],c2.c1[1],c2.c1[0],a3y);A('O',a3x-20.4,a3y+6);bond(a3x-15,a3y+3,a3x,a3y);
  const c3=chair(a3x,a3y,{c5:'ch2b',c2x:60,c2y:32,c3x:-6,c3y:24});
  hash(c3.c1[0],c3.c1[1],c3.c1[0]+13,c3.c1[1]+5,5);A('OH',a3x+98,a3y+32);
}
r=nLinked(84.2,1942.7);
polyl(ge,[[84.2,1942.7],[84.2,1921.7],[92,1915]],1.8);A('O',100.5,1910.7);
bond(100.5,1904,100.5,1895);A('P',100.5,1887.7);
bond(99,1881,99,1872);bond(102,1881,102,1872);A('O',100.5,1865);
bond(94,1887.7,89,1887.7);A('HO',73,1887.7);bond(107,1887.7,114,1887.7);A('OH',127,1887.7);
tail(142.9,1975.7,237.2,2019,334.2,2057.3);
nLinked(583,1942.7);
polyl(ge,[[583,1942.7],[583,1920],[592,1914]],1.8);A('OH',604.5,1911);
tail(642.9,1975.7,736.2,2019,834,2057.3);
// maltose
const mA=chair(1240.7,1936,{c5:'ch2b',c2x:60,c2y:36,c3x:-4,c3y:24});
A('HO',1226,1945);bond(1233,1940,1240.7,1936);
bond(mA.c1[0],mA.c1[1],mA.c1[0],1976);A('O',1316,1982);bond(1321,1979,1336.4,1976);
const mB=chair(1336.4,1976,{c5:'ch2b',c2x:59,c2y:36,c3x:-4,c3y:24});
hash(mB.c1[0],mB.c1[1],mB.c1[0]+12,mB.c1[1]+6,5);A('OH',1434,2012);
</script></body></html>
